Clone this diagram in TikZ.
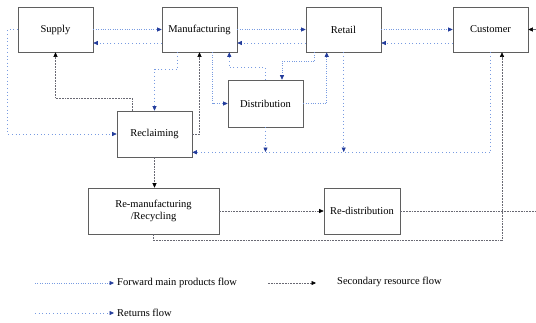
\documentclass[tikz,border=0pt]{standalone}
\usepackage{fontspec}
\setmainfont{Liberation Serif}
\usetikzlibrary{arrows.meta,calc}
\definecolor{lineblue}{RGB}{120,155,225}
\definecolor{tipblue}{RGB}{35,60,155}
\definecolor{secgray}{RGB}{105,105,115}
\definecolor{boxgray}{RGB}{95,95,95}
\tikzset{
  box/.style={draw=boxgray, line width=0.6pt, minimum width=75pt, minimum height=45pt, inner sep=2pt, align=center, font=\fontsize{10.5}{12}\selectfont},
  fwd/.style={draw=lineblue, line width=0.6pt, dash pattern=on 1pt off 1.4pt, -{Triangle[length=4.5pt,width=4pt,color=tipblue]}},
  ret/.style={draw=lineblue, line width=0.6pt, dash pattern=on 1pt off 2.6pt, -{Triangle[length=4.5pt,width=4pt,color=tipblue]}},
  sec/.style={draw=secgray, line width=0.55pt, dash pattern=on 1.8pt off 1pt, -{Triangle[length=4.5pt,width=4pt,color=black]}},
  secplain/.style={draw=secgray, line width=0.55pt, dash pattern=on 1.8pt off 1pt},
  legtext/.style={anchor=west, inner sep=0pt, font=\fontsize{10.5}{12}\selectfont}
}
\begin{document}
\begin{tikzpicture}[x=1pt,y=-1pt]
\useasboundingbox (0,0) rectangle (536,322);
% boxes
\node[box] (supply) at (55.5,29.5) {Supply};
\node[box] (manu) at (199.5,29.5) {Manufacturing};
\node[box] (retail) at (343.5,29.5) {Retail};
\node[box] (cust) at (490.5,29.5) {Customer};
\node[box, minimum height=47pt] (dist) at (265.5,103.5) {Distribution};
\node[box, minimum height=46pt] (rec) at (154.5,134) {Reclaiming};
\node[box, minimum width=131pt, minimum height=46pt] (reman) at (153.5,211) {Re-manufacturing\\/Recycling};
\node[box, minimum width=76pt, minimum height=46pt] (redis) at (362,211) {Re-distribution};
\coordinate (edgeA) at (536,29.5);
\coordinate (edgeB) at (536,211);
\coordinate (retline) at (0,152);

% top row flows
\draw[fwd] (supply.east) -- (manu.west);
\draw[ret] ([yshift=-13.5pt]manu.west) -- ([yshift=-13.5pt]supply.east);
\draw[fwd] (manu.east) -- (retail.west);
\draw[ret] ([yshift=-13.5pt]retail.west) -- ([yshift=-13.5pt]manu.east);
\draw[fwd] (retail.east) -- (cust.west);
\draw[ret] ([yshift=-13.5pt]cust.west) -- ([yshift=-13.5pt]retail.east);
\draw[sec] (edgeA) -- (cust.east);

% distribution
\draw[fwd] ([xshift=51pt]manu.south west) |- (dist.west);
\draw[ret] (dist.north) -- ++(0,-12) -| ([xshift=-8pt]manu.south east);
\draw[fwd] ([xshift=9pt]retail.south west) -- ++(0,9) -| ([xshift=16.5pt]dist.north);
\draw[fwd] (dist.east) -| ([xshift=21pt]retail.south west);

% returns to reclaiming
\draw[ret] ([xshift=16pt]manu.south west) -- ++(0,17) -| (rec.north);
\draw[ret] (supply.west) -- ++(-10,0) |- (rec.west);
\draw[ret] (cust.south) |- ([yshift=5pt]rec.south east);
\draw[ret] (dist.south) -- (dist.south |- retline);
\draw[ret] ([xshift=38pt]retail.south west) -- ([xshift=38pt]retail.south west |- retline);

% secondary flows
\draw[sec] ([xshift=16pt]rec.north west) -- ++(0,-12) -| (supply.south);
\draw[sec] (rec.east) -| (manu.south);
\draw[sec] (rec.south) -- (rec.south |- reman.north);
\draw[sec] (reman.east) -- (redis.west);
\draw[secplain] (redis.east) -- (edgeB);
\draw[sec] (reman.south) -- ++(0,6) -| ([xshift=11.5pt]cust.south);

% legend
\coordinate (l1a) at (35,283); \coordinate (l1b) at (114,283);
\coordinate (l2a) at (268,283); \coordinate (l2b) at (316,283);
\coordinate (l3a) at (35,313); \coordinate (l3b) at (114,313);
\draw[fwd] (l1a) -- (l1b);
\node[legtext] (t1) at (117,283) {Forward main products flow};
\draw[sec] (l2a) -- (l2b);
\node[legtext] (t2) at (337,282) {Secondary resource flow};
\draw[ret] (l3a) -- (l3b);
\node[legtext] (t3) at (117,313) {Returns flow};
\end{tikzpicture}
\end{document}
